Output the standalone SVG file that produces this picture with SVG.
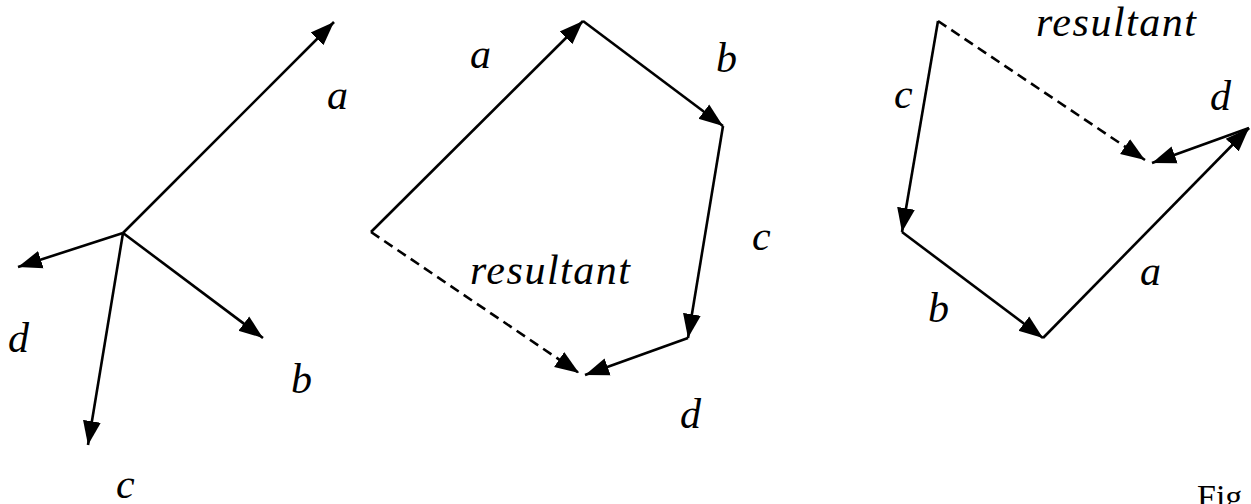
<svg xmlns="http://www.w3.org/2000/svg" width="1251" height="504" viewBox="0 0 1251 504">
<defs>
<marker id="ah" markerUnits="userSpaceOnUse" markerWidth="26" markerHeight="20" refX="24" refY="10" orient="auto" viewBox="0 0 26 20">
<path d="M0,1 L24,10 L0,19 z" fill="#000"/>
</marker>
</defs>
<rect width="1251" height="504" fill="#fff"/>
<g id="connectors" stroke="#000" stroke-width="2.6" fill="none" marker-end="url(#ah)">
<line x1="123" y1="233" x2="334" y2="22"/>
<line x1="123" y1="233" x2="18" y2="267"/>
<line x1="123" y1="233" x2="263" y2="338"/>
<line x1="123" y1="233" x2="88" y2="445"/>
<line x1="371" y1="232" x2="583" y2="21"/>
<line x1="583" y1="21" x2="723" y2="126"/>
<line x1="723" y1="126" x2="688" y2="338"/>
<line x1="688" y1="338" x2="585" y2="375"/>
<line stroke-dasharray="10 6" x1="371" y1="232" x2="579" y2="373"/>
<line x1="938" y1="21" x2="902" y2="232"/>
<line x1="902" y1="232" x2="1043" y2="338"/>
<line x1="1043" y1="338" x2="1249" y2="128"/>
<line x1="1249" y1="128" x2="1152" y2="163"/>
<line stroke-dasharray="10 6" x1="938" y1="21" x2="1145" y2="160"/>
</g>
<g font-family="Liberation Serif, DejaVu Serif, serif" font-style="italic" font-size="42" fill="#000">
<g id="left-labels">
<text x="327" y="109">a</text>
<text x="8" y="352">d</text>
<text x="291" y="393">b</text>
<text x="116" y="498">c</text>
</g>
<g id="middle-labels">
<text x="470" y="68">a</text>
<text x="716" y="72">b</text>
<text x="752" y="250">c</text>
<text x="470" y="284" textLength="160">resultant</text>
<text x="680" y="428">d</text>
</g>
<g id="right-labels">
<text x="1036" y="36" textLength="160">resultant</text>
<text x="894" y="108">c</text>
<text x="1210" y="110">d</text>
<text x="1140" y="285">a</text>
<text x="928" y="322">b</text>
</g>
</g>
<g id="caption">
<text x="1197" y="508" font-family="Liberation Serif, DejaVu Serif, serif" font-size="34" fill="#000">Fig</text>
</g>
</svg>
